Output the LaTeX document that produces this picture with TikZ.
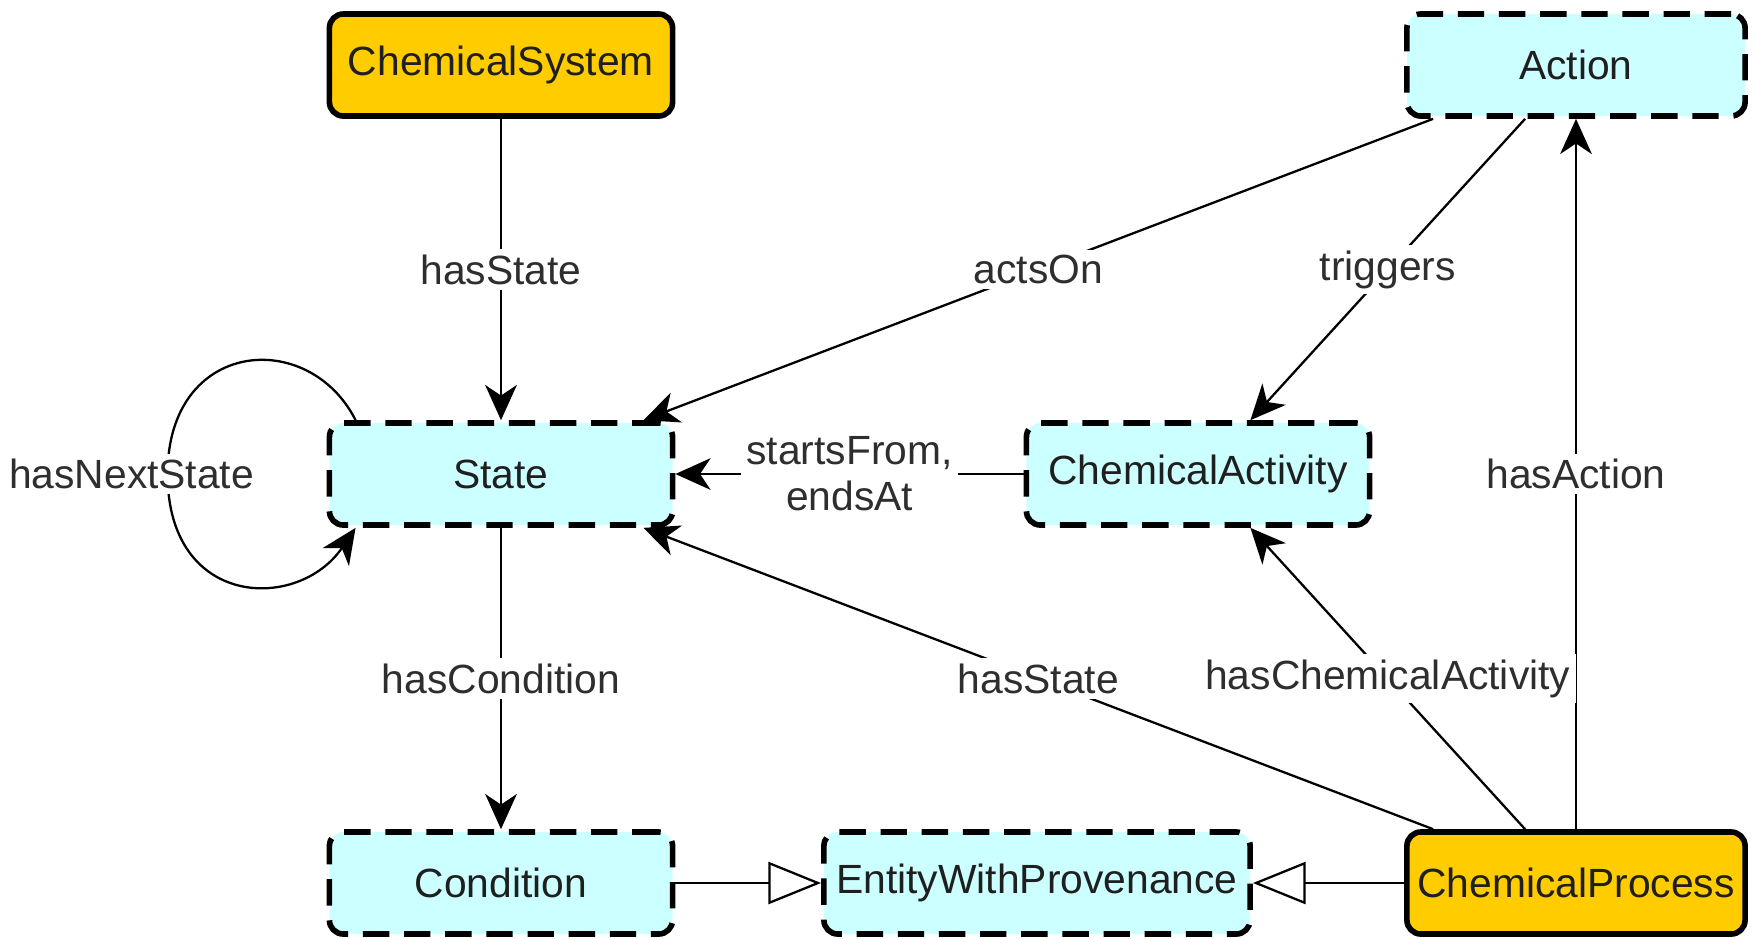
\documentclass[tikz,border=0pt]{standalone}
\usepackage{fontspec}
\setmainfont{Liberation Sans}
\usepackage{tikz}
\usepackage{xcolor}
\usetikzlibrary{arrows.meta,calc}
\definecolor{coreorange}{HTML}{FFCC00}
\definecolor{extcyan}{HTML}{CCFFFF}
\tikzset{
  cls/.style={rounded corners=0.14cm, line width=1.6pt, minimum height=1.02cm, inner sep=0pt,
    font=\fontsize{11.6}{13}\selectfont, text=black!88},
  core/.style={cls, draw, fill=coreorange},
  ext/.style={cls, draw, fill=extcyan, dash pattern=on 7.5pt off 4.2pt},
  rel/.style={line width=0.65pt, -{Stealth[length=10pt,width=9pt,inset=3pt]}},
  isa/.style={line width=0.65pt, -{Triangle[length=15pt,width=12pt,fill=white,line width=0.65pt]}},
  lbl/.style={fill=white, inner sep=1.5pt, font=\fontsize{11.6}{13}\selectfont, text=black!82, align=center},
}

\begin{document}
\begin{tikzpicture}[x=0.01cm,y=-0.01cm]
    \useasboundingbox (0,0) rectangle (1753,938);
    \node[core, minimum width=3.43cm] (chemsys) at (501,65) {ChemicalSystem};
    \node[ext, minimum width=3.38cm] (action) at (1576,65) {Action};
    \node[ext, minimum width=3.43cm] (state) at (501,474) {State};
    \node[ext, minimum width=3.43cm] (chemact) at (1198,474) {ChemicalActivity};
    \node[ext, minimum width=3.43cm] (condition) at (501,883) {Condition};
    \node[ext, minimum width=4.26cm] (ewp) at (1037,883) {EntityWithProvenance};
    \node[core, minimum width=3.38cm] (chemproc) at (1576,883) {ChemicalProcess};
    \coordinate (loopleft) at ($(state.west)+(-159,0)$);
    \draw[rel] (chemsys) -- node[lbl]{hasState} (state);
    \draw[rel] ($(action.south west)+(29,0)$) -- node[lbl]{actsOn} ($(state.north east)+(-32,0)$);
    \draw[rel] ($(action.south west)+(121,0)$) -- node[lbl]{triggers} ($(chemact.north east)+(-122,0)$);
    \draw[rel] (chemproc) -- node[lbl]{hasAction} (action);
    \draw[rel] (chemact) -- node[lbl]{startsFrom,\\endsAt} (state);
    \draw[rel] ($(chemproc.north west)+(121,0)$) -- node[lbl]{hasChemicalActivity} ($(chemact.south east)+(-122,0)$);
    \draw[rel] ($(chemproc.north west)+(29,0)$) -- node[lbl]{hasState} ($(state.south east)+(-32,0)$);
    \draw[rel] (state) -- node[lbl]{hasCondition} (condition);
    \draw[rel] ($(state.north west)+(29,0)$) .. controls +(-47,-93) and +(0,-135) .. (loopleft)
        node[lbl, xshift=-0.36cm]{hasNextState}
        .. controls +(0,135) and +(-57,84) .. ($(state.south west)+(29,0)$);
    \draw[isa] (condition) -- (ewp);
    \draw[isa] (chemproc) -- (ewp);
\end{tikzpicture}
\end{document}
